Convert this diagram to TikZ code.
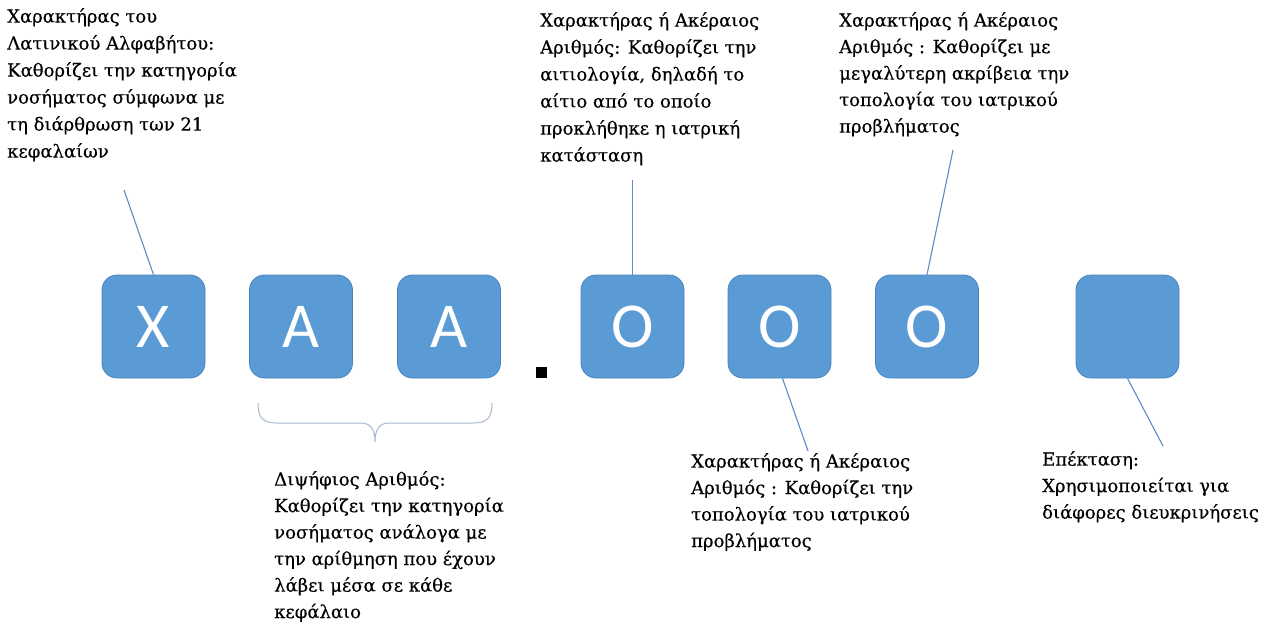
\documentclass[tikz,border=0pt]{standalone}
\usepackage{fontspec}
\setmainfont{DejaVu Serif}[FakeBold=0.35]
\newfontfamily\boxfont{Carlito}
\definecolor{boxblue}{HTML}{5B9BD5}
\definecolor{boxedge}{HTML}{4A84BD}
\definecolor{callline}{HTML}{5B8CC8}
\definecolor{bracecol}{HTML}{A8B8CC}
\begin{document}
\begin{tikzpicture}[x=1pt,y=-1pt,
  code/.style={draw=boxedge, line width=0.8pt, fill=boxblue, rounded corners=15pt,
    minimum width=103pt, minimum height=103pt, inner sep=0pt, text=white,
    font=\boxfont\fontsize{64}{64}\selectfont},
  note/.style={anchor=north west, inner sep=0pt, align=left,
    font=\fontsize{18}{26.5}\selectfont, execute at begin node=\strut},
  wide/.style={font=\fontsize{18}{27}\selectfont},
  callout/.style={draw=callline, line width=1.1pt},
  bracestyle/.style={draw=bracecol, line width=1pt}]
\fill[white] (0,0) rectangle (1261,627);
\useasboundingbox (0,0) rectangle (1261,627);

% code boxes
\node[code] (bX)   at (153.5,326.5) {X};
\node[code] (bA1)  at (301,326.5) {A};
\node[code] (bA2)  at (449,326.5) {A};
\node[fill=black, minimum size=11pt, inner sep=0pt] (dot) at (541,372) {};
\node[code] (bO1)  at (632.5,326.5) {O};
\node[code] (bO2)  at (779.5,326.5) {O};
\node[code] (bO3)  at (927,326.5) {O};
\node[code] (bExt) at (1127.5,326.5) {};

% notes
\node[note,wide] (nX) at (7,8) {Χαρακτήρας του\\Λατινικού Αλφαβήτου:\\Καθορίζει την κατηγορία\\νοσήματος σύμφωνα με\\τη διάρθρωση των 21\\κεφαλαίων};
\node[note,wide] (nO1) at (540,12) {Χαρακτήρας ή Ακέραιος\\Αριθμός: Καθορίζει την\\αιτιολογία, δηλαδή το\\αίτιο από το οποίο\\προκλήθηκε η ιατρική\\κατάσταση};
\node[note] (nO3) at (839,12) {Χαρακτήρας ή Ακέραιος\\Αριθμός : Καθορίζει με\\μεγαλύτερη ακρίβεια την\\τοπολογία του ιατρικού\\προβλήματος};
\node[note] (nAA) at (274,471) {Διψήφιος Αριθμός:\\Καθορίζει την κατηγορία\\νοσήματος ανάλογα με\\την αρίθμηση που έχουν\\λάβει μέσα σε κάθε\\κεφάλαιο};
\node[note] (nO2) at (691,453) {Χαρακτήρας ή Ακέραιος\\Αριθμός : Καθορίζει την\\τοπολογία του ιατρικού\\προβλήματος};
\node[note] (nExt) at (1042,451) {Επέκταση:\\Χρησιμοποιείται για\\διάφορες διευκρινήσεις};

% callout ends
\coordinate (tX) at (124,190);
\coordinate (tO1) at (632.5,180);
\coordinate (tO3) at (953,150);
\coordinate (tO2) at (808,451);
\coordinate (tExt) at (1163,446);

\draw[callout] (bX.north) -- (tX);
\draw[callout] (bO1.north) -- (tO1);
\draw[callout] (bO3.north) -- (tO3);
\draw[callout] ([xshift=3pt]bO2.south) -- (tO2);
\draw[callout] (bExt.south) -- (tExt);

% brace under the two A boxes
\draw[bracestyle] (258,403) .. controls (258,418) and (263,423) .. (277,423)
  -- (361,423) .. controls (371,423) and (375,430) .. (375,442)
  .. controls (375,430) and (379,423) .. (389,423)
  -- (473,423) .. controls (487,423) and (492,418) .. (492,403);
\end{tikzpicture}
\end{document}
